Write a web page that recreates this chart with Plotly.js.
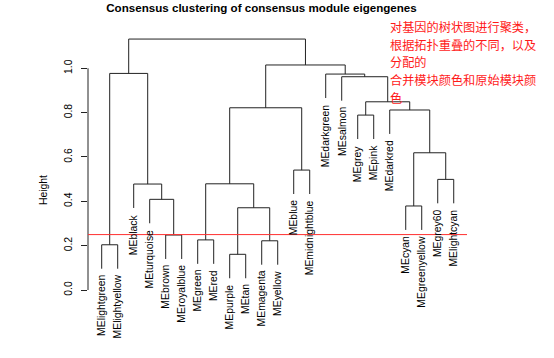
<!DOCTYPE html>
<html>
<head>
<meta charset="utf-8">
<script src="https://cdn.plot.ly/plotly-3.0.1.min.js"></script>
<style>html,body{margin:0;padding:0;background:#fff;}#chart{width:554px;height:358px;}</style>
</head>
<body>
<div id="chart"></div>
<script>
// Leaf labels in dendrogram order (left to right)
const leafLabels = ["MElightgreen","MElightyellow","MEblack","MEturquoise","MEbrown","MEroyalblue",
  "MEgreen","MEred","MEpurple","MEtan","MEmagenta","MEyellow","MEblue","MEmidnightblue",
  "MEdarkgreen","MEsalmon","MEgrey","MEpink","MEdarkred","MEcyan","MEgreenyellow","MEgrey60","MElightcyan"];

// hclust-style merges: negative = leaf position (1-based), positive = earlier merge (1-based)
const mergeLeft  = [-9, -1, -11, -7, -5, 1, -20, -4, -3, 4, -22, -13, 7, -17, -19, 10, 14, -16, -15, 2, 16, 20];
const mergeRight = [-10, -2, -12, -8, -6, 3, -21, 5, 8, 6, -23, -14, 11, -18, 13, 12, 15, 17, 18, 9, 19, 21];
const mergeHeight = [0.161, 0.204, 0.222, 0.226, 0.248, 0.371, 0.379, 0.409, 0.478, 0.479, 0.499, 0.541,
  0.619, 0.789, 0.812, 0.822, 0.849, 0.962, 0.974, 0.977, 1.015, 1.132];

const cutHeight = 0.25;
const yTicks = [0, 0.2, 0.4, 0.6, 0.8, 1.0];
const yTickText = ["0.0", "0.2", "0.4", "0.6", "0.8", "1.0"];

const titleText = "Consensus clustering of consensus module eigengenes";
const noteLines = ["对基因的树状图进行聚类，", "根据拓扑重叠的不同，以及", "分配的", "合并模块颜色和原始模块颜", "色"];

// ---- build dendrogram segments ----
const hang = 0.108;
const nodeX = [];
const xs = [], ys = [];
const leafParentH = new Array(leafLabels.length).fill(0);
function childX(c){ return c < 0 ? -c : nodeX[c-1]; }
function childH(c, h){ return c < 0 ? h - hang : mergeHeight[c-1]; }
for (let i = 0; i < mergeHeight.length; i++) {
  const l = mergeLeft[i], r = mergeRight[i], h = mergeHeight[i];
  const xl = childX(l), xr = childX(r);
  nodeX.push((xl + xr) / 2);
  xs.push(xl, xl, xr, xr, null);
  ys.push(childH(l, h), h, h, childH(r, h), null);
  if (l < 0) leafParentH[-l-1] = h;
  if (r < 0) leafParentH[-r-1] = h;
}

const font = "Liberation Sans, Arial, sans-serif";
const annotations = leafLabels.map((lab, i) => ({
  x: i + 1, y: leafParentH[i] - hang, xref: 'x', yref: 'y',
  text: lab, textangle: -90, showarrow: false,
  xanchor: 'center', yanchor: 'top', yshift: -4,
  font: {family: font, size: 10.4, color: '#000'}
}));
// red note, one annotation per line (plot area: top 30px, height 320px)
noteLines.forEach((line, k) => {
  const yPx = 26.8 + 17.8 * k;
  annotations.push({
    x: 0.7955, y: 1 - (yPx - 30) / 320, xref: 'paper', yref: 'paper',
    xanchor: 'left', yanchor: 'middle', align: 'left', showarrow: false, text: line,
    borderpad: 0,
    font: {family: "Noto Sans CJK SC, sans-serif", size: 12.2, color: '#ff1a1a'}
  });
});

const trace = {
  x: xs, y: ys, type: 'scatter', mode: 'lines', hoverinfo: 'skip',
  line: {color: '#222', width: 1}, showlegend: false
};

const layout = {
  width: 554, height: 358,
  margin: {l: 88, r: 87, t: 30, b: 8},
  paper_bgcolor: '#fff', plot_bgcolor: '#fff',
  title: {text: '<b>' + titleText + '</b>', x: 261.5/554, xref: 'container', xanchor: 'center',
          y: 1 - 7.5/358, yref: 'container', yanchor: 'middle',
          font: {family: font, size: 11.6, color: '#000'}},
  xaxis: {range: [0.144, 23.83], showgrid: false, zeroline: false, showline: false,
          showticklabels: false, ticks: '', fixedrange: true},
  yaxis: {range: [-0.2706, 1.1728], showgrid: false, zeroline: false, showline: false,
          tickvals: yTicks, ticktext: yTickText, ticks: 'outside', ticklen: 6, tickcolor: '#222',
          tickangle: -90, ticklabelstandoff: 5,
          tickfont: {family: font, size: 10.4, color: '#000'},
          title: {text: 'Height', standoff: 13, font: {family: font, size: 10.4, color: '#000'}}},
  shapes: [
    {type: 'line', xref: 'paper', yref: 'y', x0: 0, x1: 0, y0: yTicks[0], y1: yTicks[yTicks.length-1],
     line: {color: '#222', width: 1}},
    {type: 'line', xref: 'paper', yref: 'y', x0: 0, x1: 1, y0: cutHeight, y1: cutHeight,
     line: {color: '#ff3030', width: 1}}
  ],
  annotations: annotations
};

Plotly.newPlot('chart', [trace], layout, {staticPlot: true, displayModeBar: false});
</script>
</body>
</html>
